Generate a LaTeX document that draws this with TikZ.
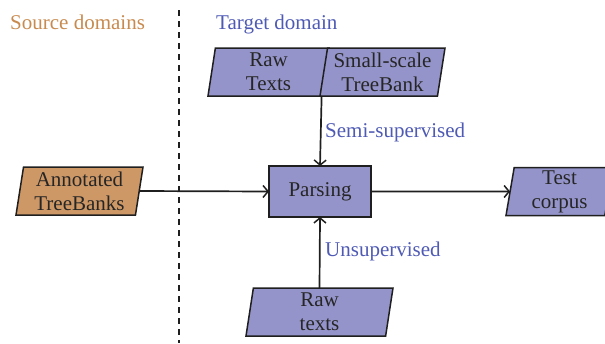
\documentclass[tikz,border=0pt]{standalone}
\usepackage{fontspec}
\setmainfont{Liberation Serif}
\usetikzlibrary{shapes.geometric,arrows.meta}
\definecolor{boxblue}{RGB}{148,148,202}
\definecolor{boxorange}{RGB}{206,152,102}
\definecolor{txtblue}{RGB}{78,90,180}
\definecolor{txtorange}{RGB}{200,138,78}
\tikzset{
  base/.style={draw=black!88, line width=1.5pt, inner sep=0pt, outer sep=0pt, align=center,
    font=\fontsize{21}{24}\selectfont, text=black!85},
  para/.style={base, trapezium, trapezium left angle=79, trapezium right angle=101,
    trapezium stretches body, minimum height=48pt, fill=boxblue},
  rect/.style={base, rectangle, fill=boxblue},
  lbl/.style={font=\fontsize{21}{24}\selectfont, inner sep=0pt, anchor=base west},
  conn/.style={line width=1.7pt, draw=black!88, -{Straight Barb[length=5pt,width=12pt,line width=1.5pt]}},
  divider/.style={line width=1.6pt, draw=black!88, dash pattern=on 6pt off 5pt}
}
\begin{document}
\begin{tikzpicture}[x=1pt,y=-1pt]
\useasboundingbox (0,0) rectangle (605,343);
\coordinate (dtop) at (179,10);
\coordinate (dbot) at (179,343);
\draw[divider] (dtop) -- (dbot);
\node[lbl, text=txtorange] (src) at (10,29) {Source domains};
\node[lbl, text=txtblue] (tgt) at (216,29) {Target domain};
\node[para, minimum width=121pt] (raw1) at (268.5,72) {Raw\\Texts};
\node[para, minimum width=125pt] (small) at (382.5,72) {Small-scale\\TreeBank};
\node[rect, minimum width=102pt, minimum height=51pt] (parsing) at (320,191.5) {Parsing};
\node[para, minimum width=127pt, fill=boxorange] (annot) at (79.5,191) {Annotated\\TreeBanks};
\node[para, minimum width=107pt] (test) at (559.5,191.5) {Test\\corpus};
\node[para, minimum width=147pt] (raw2) at (319.5,312) {Raw\\texts};
\draw[conn] (raw1.bottom right corner) -- (parsing.north);
\draw[conn] (annot.east) -- (parsing.west);
\draw[conn] (parsing.east) -- (test.west);
\draw[conn] (raw2.north) -- (parsing.south);
\node[lbl, text=txtblue] (semi) at (325,137) {Semi-supervised};
\node[lbl, text=txtblue] (unsup) at (325,256.5) {Unsupervised};
\end{tikzpicture}
\end{document}
